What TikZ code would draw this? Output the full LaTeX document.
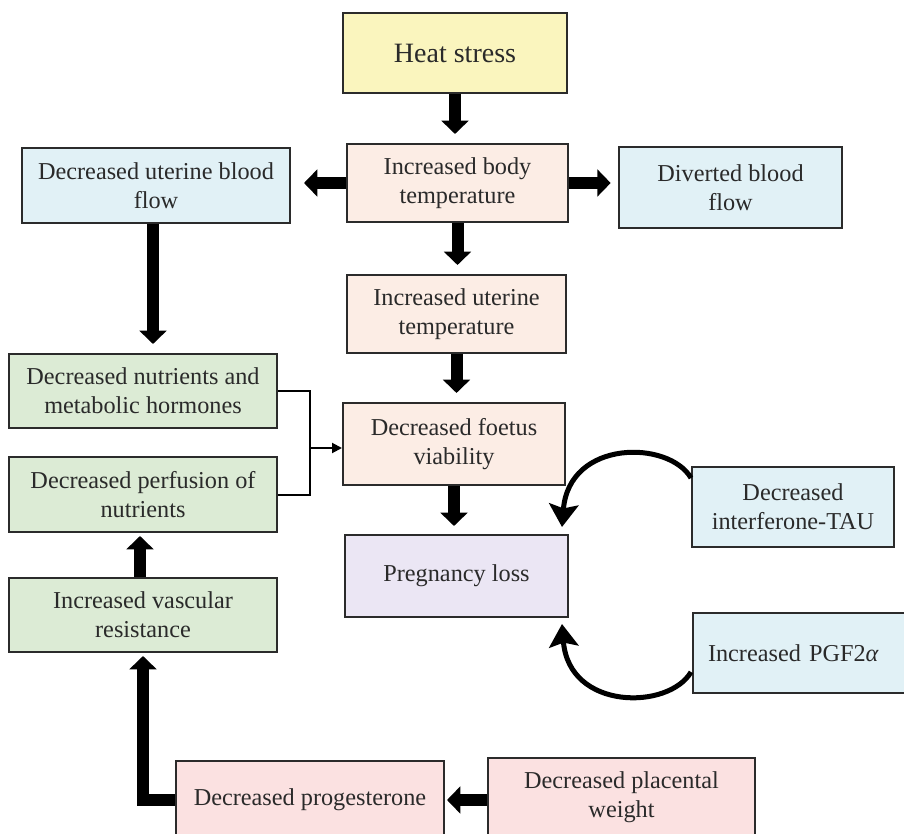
\documentclass[tikz,border=0pt]{standalone}
\usepackage{fontspec}
\setmainfont{Liberation Serif}
\usetikzlibrary{arrows.meta,calc}
\definecolor{cyellow}{HTML}{FAF5BE}
\definecolor{cpeach}{HTML}{FCEDE5}
\definecolor{cblue}{HTML}{E1F1F6}
\definecolor{cgreen}{HTML}{DCEBD5}
\definecolor{clav}{HTML}{EBE6F4}
\definecolor{cpink}{HTML}{FBE1E1}
\definecolor{cborder}{HTML}{2B2B2B}
\definecolor{ctext}{HTML}{2A2A2A}
\tikzset{
  box/.style={draw=cborder, line width=1.5pt, inner sep=0pt, align=center, text=ctext,
              font=\fontsize{18.2}{22}\selectfont},
  fat/.style={line width=9pt, -{Triangle[length=10pt,width=20pt]}},
  curvy/.style={line width=3.75pt, -{Stealth[length=17pt,width=22pt,inset=3pt]}},
  thinline/.style={line width=1.5pt},
  thinarrow/.style={line width=1.5pt, -{Triangle[length=7.5pt,width=7.5pt]}}
}
\begin{document}
\begin{tikzpicture}[x=0.75pt,y=-0.75pt]
\useasboundingbox (0,0) rectangle (904,834);
\clip (0,0) rectangle (904,834);
\fill[white] (0,0) rectangle (904,834);

% nodes
\node[box, fill=cyellow, minimum width=168pt, minimum height=60pt,
      font=\fontsize{21}{24}\selectfont] (heat) at (455,53) {Heat stress};
\node[box, fill=cpeach, minimum width=165.75pt, minimum height=58.5pt] (body) at (457.5,183)
      {Increased body\\temperature};
\node[box, fill=cblue, minimum width=201pt, minimum height=56.25pt] (ublood) at (156,185.5)
      {Decreased uterine blood\\flow};
\node[box, fill=cblue, minimum width=167.25pt, minimum height=60.75pt] (divert) at (730.5,187.5)
      {Diverted blood\\flow};
\node[box, fill=cpeach, minimum width=164.25pt, minimum height=58.5pt] (utemp) at (456.5,314)
      {Increased uterine\\temperature};
\node[box, fill=cpeach, minimum width=166.5pt, minimum height=61.5pt] (foetus) at (454,444)
      {Decreased foetus\\viability};
\node[box, fill=clav, minimum width=167.25pt, minimum height=61.5pt] (preg) at (456.5,576)
      {Pregnancy loss};
\node[box, fill=cgreen, minimum width=201pt, minimum height=55.5pt] (nutr) at (143,391)
      {Decreased nutrients and\\metabolic hormones};
\node[box, fill=cgreen, minimum width=201pt, minimum height=56.25pt] (perf) at (143,494.5)
      {Decreased perfusion of\\nutrients};
\node[box, fill=cgreen, minimum width=201pt, minimum height=55.5pt] (vasc) at (143,615)
      {Increased vascular\\resistance};
\node[box, fill=cblue, minimum width=151.5pt, minimum height=60pt] (ifn) at (793,507)
      {Decreased\\interferone-TAU};
\node[box, fill=cblue, minimum width=159pt, minimum height=60pt, inner xsep=11.25pt,
      text width=136.5pt, align=left] (pgf) at (799,653)
      {Increased PGF2\textit{α}};
\node[box, fill=cpink, minimum width=201pt, minimum height=58.5pt] (prog) at (310,800)
      {Decreased progesterone};
\node[box, fill=cpink, minimum width=200.25pt, minimum height=58.5pt] (plac) at (621.5,797)
      {Decreased placental\\weight};

% thick arrows
\draw[fat, shorten >=6.75pt] (heat.south) -- (heat.south |- body.north);
\draw[fat, shorten >=9.75pt] (body.west) -- (body.west -| ublood.east);
\draw[fat, shorten >=5.5pt] (body.east) -- (body.east -| divert.west);
\draw[fat, shorten >=6.75pt] (body.south) -- (body.south |- utemp.north);
\draw[fat, shorten >=6.75pt] (utemp.south) -- (utemp.south |- foetus.north);
\draw[fat, shorten >=6pt] (foetus.south) -- (foetus.south |- preg.north);
\draw[fat, shorten >=6.75pt] ($(ublood.south)+(-3,0)$) -- ($(ublood.south |- nutr.north)+(-3,0)$);
\draw[fat, shorten >=2.25pt] ($(vasc.north)+(-3,0)$) -- ($(perf.south)+(-3,0)$);
\draw[fat, shorten >=2.25pt] (prog.west) -| (vasc.south);
\draw[fat, shorten >=1.5pt] (plac.west |- prog.east) -- (prog.east);

% bracket
\coordinate (jn) at (310,448);
\draw[thinline] (nutr.east) -| (jn);
\draw[thinline] (perf.east) -| (jn);
\draw[thinarrow] (jn) -- (jn -| foetus.west);

% curved arrows
\draw[curvy] ($(ifn.west)+(0,-29)$) .. controls +(-22,-38) and +(7,-88) .. ($(preg.north east)+(-7,-7)$);
\draw[curvy] ($(pgf.west)+(-1,19)$) .. controls +(-22,38) and +(7,87) .. ($(preg.south east)+(-7,6)$);
\end{tikzpicture}
\end{document}
